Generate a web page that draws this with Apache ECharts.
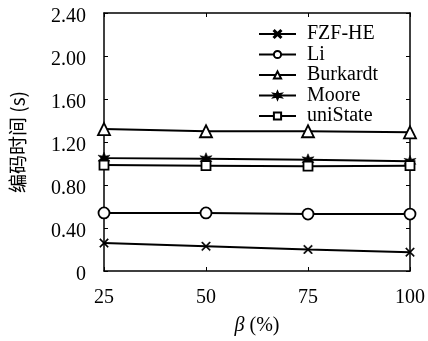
<!DOCTYPE html>
<html><head><meta charset="utf-8">
<script src="https://cdn.jsdelivr.net/npm/echarts@6/dist/echarts.min.js"></script>
<style>html,body{margin:0;padding:0;background:#fff}#c{width:428px;height:341px}</style>
</head><body><div id="c"></div>
<script>
var xValues = [25, 50, 75, 100];
var seriesNames = ['FZF-HE', 'Li', 'Burkardt', 'Moore', 'uniState'];
var fzfhe = [0.26, 0.23, 0.20, 0.175];
var li = [0.54, 0.54, 0.53, 0.53];
var burkardt = [1.32, 1.30, 1.30, 1.29];
var moore = [1.05, 1.045, 1.035, 1.02];
var unistate = [0.985, 0.98, 0.975, 0.98];
var yTicks = ['0', '0.40', '0.80', '1.20', '1.60', '2.00', '2.40'];

var FONT = '"Liberation Serif", "DejaVu Serif", serif';
var symbols = {
  cross: 'path://M0,1 L1,0 L5,4 L9,0 L10,1 L6,5 L10,9 L9,10 L5,6 L1,10 L0,9 L4,5 Z',
  star: 'path://M5,0 L6.3,3.2 L9.8,2.5 L7.5,5 L9.8,7.5 L6.3,6.8 L5,10 L3.7,6.8 L0.2,7.5 L2.5,5 L0.2,2.5 L3.7,3.2 Z'
};
function pairs(arr){ return xValues.map(function(x,i){ return [x, arr[i]]; }); }
function mk(name, data, symbol, size, fill){
  return {
    name: name, type: 'line', data: pairs(data), symbol: symbol, symbolSize: size,
    lineStyle: {color: '#000', width: 2},
    itemStyle: {color: fill, borderColor: '#000', borderWidth: fill === '#000' ? 0.5 : 1.8},
    z: 3
  };
}
var axLine = {show: true, onZero: false, lineStyle: {color: '#000', width: 1.5}};
var axTick = {show: true, inside: true, length: 4, lineStyle: {color: '#000'}};
var chart = echarts.init(document.getElementById('c'));
chart.setOption({
  animation: false,
  backgroundColor: '#fff',
  grid: {left: 102, right: 17, top: 13, bottom: 70},
  legend: {
    data: seriesNames, left: 258, top: 24, padding: 0, orient: 'vertical', itemWidth: 37, itemHeight: 9, itemGap: 0.5,
    textStyle: {fontFamily: FONT, fontSize: 20, lineHeight: 20, color: '#000', padding: [0,0,0,6]},
    inactiveColor: '#000'
  },
  xAxis: [{
    type: 'value', min: 25, max: 100, interval: 25,
    name: '{i|β} (%)', nameLocation: 'middle', nameGap: 45,
    nameTextStyle: {fontFamily: FONT, fontSize: 20, color: '#000',
      rich: {i: {fontFamily: FONT, fontSize: 20, fontStyle: 'italic', color: '#000'}}},
    axisLine: axLine, axisTick: axTick,
    axisLabel: {fontFamily: FONT, fontSize: 20, color: '#000', margin: 17},
    splitLine: {show: false}
  }, {
    type: 'value', min: 25, max: 100, interval: 25, position: 'top',
    axisLine: axLine, axisTick: axTick,
    axisLabel: {show: false}, splitLine: {show: false}
  }],
  yAxis: [{
    type: 'value', min: 0, max: 2.4, interval: 0.4,
    name: '编码时间 (s)', nameLocation: 'middle', nameGap: 77, nameRotate: 90,
    nameTextStyle: {fontFamily: '"Noto Sans CJK SC", ' + FONT, fontSize: 19, color: '#000'},
    axisLine: axLine, axisTick: axTick,
    axisLabel: {fontFamily: FONT, fontSize: 20, color: '#000', margin: 18,
      rich: {a: {fontFamily: FONT, fontSize: 20, color: '#000', padding: [7,0,0,0]}},
      formatter: function(v){ return '{a|' + yTicks[Math.round(v/0.4)] + '}'; }},
    splitLine: {show: false}
  }, {
    type: 'value', min: 0, max: 2.4, interval: 0.4, position: 'right',
    axisLine: axLine, axisTick: axTick,
    axisLabel: {show: false}, splitLine: {show: false}
  }],
  series: [
    mk('FZF-HE', fzfhe, symbols.cross, 9, '#000'),
    mk('Li', li, 'circle', 11, '#fff'),
    mk('Burkardt', burkardt, 'triangle', 12, '#fff'),
    mk('Moore', moore, symbols.star, 12, '#000'),
    mk('uniState', unistate, 'rect', 9, '#fff')
  ]
});
</script></body></html>
